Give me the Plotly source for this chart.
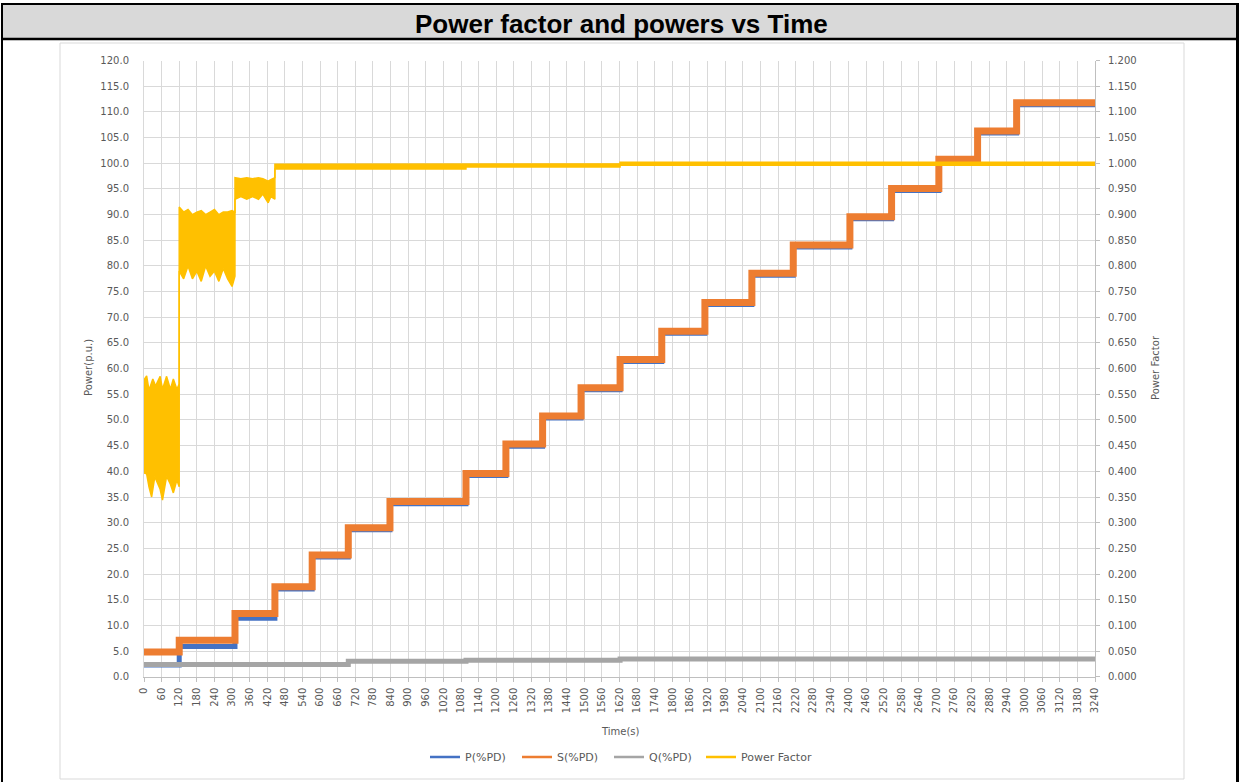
import plotly.graph_objects as go

# ---- data -------------------------------------------------------------
# apparent power S and active power P: level of each load step and its start time (s)
step_start = [0, 120, 310, 446, 573, 696, 838, 1097, 1233, 1358, 1489,
              1622, 1764, 1911, 2071, 2212, 2405, 2547, 2708, 2840, 2973]
s_level = [4.8, 7.1, 12.3, 17.5, 23.7, 29.0, 34.1, 39.6, 45.3, 50.8, 56.3,
           61.8, 67.3, 72.9, 78.6, 84.1, 89.6, 95.1, 100.8, 106.3, 111.8]
p_level = [2.3, 5.9, 11.4, 17.1, 23.3, 28.6, 33.7, 39.2, 44.9, 50.4, 55.9,
           61.4, 66.9, 72.5, 78.2, 83.7, 89.2, 94.7, 100.4, 105.9, 111.4]
end_time = 3240

# reactive power Q
q_start = [0, 696, 1097, 1622]
q_level = [2.4, 3.0, 3.2, 3.45]

# power factor: lower and upper envelope of the fluctuating signal
pf_time = [0, 9, 17, 26, 30, 37, 40, 55, 63, 77, 90, 100, 112, 119.9,
           120, 135, 150, 165, 180, 195, 210, 225, 240, 255, 270, 285, 300, 309.9,
           310, 330, 350, 370, 390, 405, 415, 423, 432, 445.9,
           446, 600, 800, 1000, 1096.9,
           1097, 1300, 1500, 1621.9,
           1622, 2400, 3240]
pf_high = [0.578, 0.586, 0.558, 0.575, 0.580, 0.570, 0.567, 0.585, 0.560, 0.585, 0.560, 0.580, 0.560, 0.570,
           0.915, 0.905, 0.910, 0.900, 0.905, 0.908, 0.900, 0.905, 0.910, 0.900, 0.905, 0.905, 0.908, 0.905,
           0.972, 0.970, 0.972, 0.970, 0.972, 0.970, 0.968, 0.965, 0.968, 0.972,
           0.998, 0.998, 0.998, 0.998, 0.998,
           0.999, 0.999, 0.999, 0.999,
           1.002, 1.002, 1.002]
pf_low = [0.397, 0.395, 0.370, 0.350, 0.365, 0.390, 0.385, 0.365, 0.344, 0.390, 0.375, 0.358, 0.383, 0.370,
          0.790, 0.775, 0.800, 0.775, 0.790, 0.770, 0.800, 0.780, 0.790, 0.770, 0.795, 0.775, 0.760, 0.780,
          0.930, 0.935, 0.930, 0.935, 0.930, 0.940, 0.930, 0.923, 0.935, 0.930,
          0.989, 0.989, 0.988, 0.989, 0.989,
          0.993, 0.993, 0.993, 0.993,
          0.996, 0.996, 0.996]

x_ticks = list(range(0, 3241, 60))

# ---- colours / fonts ----------------------------------------------------
C_P, C_S, C_Q, C_PF = "#4472c4", "#ed7d31", "#a5a5a5", "#ffc000"
TXT = "#595959"
GRID = "#d9d9d9"
FONT = "DejaVu Sans"

W, H = 1242, 782


def fx(px):
    return px / W


def fy(py):
    return 1 - py / H


def stairs(starts, levels, end):
    return list(starts) + [end], list(levels) + [levels[-1]]


fig = go.Figure()

sx, sy = stairs(step_start, s_level, end_time)
px_, py_ = stairs(step_start, p_level, end_time)
qx, qy = stairs(q_start, q_level, end_time)

fig.add_trace(go.Scatter(x=px_, y=py_, mode="lines", line=dict(color=C_P, width=5, shape="hv"),
                         showlegend=False, hoverinfo="skip"))
fig.add_trace(go.Scatter(x=sx, y=sy, mode="lines", line=dict(color=C_S, width=7, shape="hv"),
                         showlegend=False, hoverinfo="skip"))
fig.add_trace(go.Scatter(x=qx, y=qy, mode="lines", line=dict(color=C_Q, width=5, shape="hv"),
                         showlegend=False, hoverinfo="skip"))
fig.add_trace(go.Scatter(x=pf_time, y=pf_low, mode="lines", yaxis="y2",
                         line=dict(color=C_PF, width=1.5), showlegend=False, hoverinfo="skip"))
fig.add_trace(go.Scatter(x=pf_time, y=pf_high, mode="lines", yaxis="y2", fill="tonexty",
                         fillcolor=C_PF, line=dict(color=C_PF, width=1.5),
                         showlegend=False, hoverinfo="skip"))

# legend entries
for name, col, lg in [("P(%PD)", C_P, "legend"), ("S(%PD)", C_S, "legend"),
                      ("Q(%PD)", C_Q, "legend"), ("Power Factor", C_PF, "legend2")]:
    fig.add_trace(go.Scatter(x=[None], y=[None], mode="lines", name=name, legend=lg,
                             line=dict(color=col, width=2.5)))

tickfont = dict(family=FONT, size=10, color=TXT)
legfont = dict(family=FONT, size=11, color=TXT)

fig.update_layout(
    width=W, height=H,
    margin=dict(l=0, r=0, t=0, b=0),
    paper_bgcolor="white", plot_bgcolor="white",
    xaxis=dict(domain=[fx(144), fx(1095)], range=[0, end_time], tickvals=x_ticks,
               ticktext=[str(v) for v in x_ticks], tickangle=-90, tickfont=tickfont,
               showgrid=True, gridcolor=GRID, gridwidth=1, zeroline=False,
               showline=True, linecolor="#bfbfbf", linewidth=1,
               ticks="outside", ticklen=4, tickcolor="#bfbfbf", ticklabelstandoff=2,
               automargin=False, fixedrange=True),
    yaxis=dict(domain=[fy(676.7), fy(60.6)], range=[0, 120], dtick=5, tick0=0,
               tickformat=".1f", tickfont=tickfont, showgrid=True, gridcolor=GRID,
               zeroline=False, showline=True, linecolor="#d9d9d9", ticks="",
               ticklabelstandoff=12, automargin=False, fixedrange=True),
    yaxis2=dict(overlaying="y", side="right", range=[0, 1.2], dtick=0.05, tick0=0,
                tickformat=".3f", tickfont=tickfont, showgrid=False, zeroline=False,
                showline=True, linecolor="#bfbfbf", ticks="outside", ticklen=4,
                tickcolor="#bfbfbf", ticklabelstandoff=6, automargin=False, fixedrange=True),
    legend=dict(orientation="h", x=fx(425), xanchor="left", y=fy(757), yanchor="middle",
                font=legfont, bgcolor="rgba(0,0,0,0)",
                itemwidth=30, traceorder="normal", entrywidth=47, entrywidthmode="pixels"),
    legend2=dict(orientation="h", x=fx(701), xanchor="left", y=fy(757), yanchor="middle",
                 font=legfont, bgcolor="rgba(0,0,0,0)", itemwidth=30),
    showlegend=True,
)

shapes = [
    # title band
    dict(type="rect", xref="paper", yref="paper", x0=fx(3), x1=fx(1237), y0=fy(39), y1=fy(5),
         fillcolor="#d9d9d9", line=dict(width=0), layer="below"),
    # chart area border
    dict(type="rect", xref="paper", yref="paper", x0=fx(60), x1=fx(1184), y0=fy(779), y1=fy(43),
         line=dict(color="#d9d9d9", width=1), layer="below"),
    # outer frame
    dict(type="line", xref="paper", yref="paper", x0=fx(1), x1=fx(1239), y0=fy(4), y1=fy(4),
         line=dict(color="black", width=2)),
    dict(type="line", xref="paper", yref="paper", x0=fx(1), x1=fx(1239), y0=fy(39), y1=fy(39),
         line=dict(color="black", width=2.5)),
    dict(type="line", xref="paper", yref="paper", x0=fx(2), x1=fx(2), y0=fy(3), y1=fy(782),
         line=dict(color="black", width=2)),
    dict(type="line", xref="paper", yref="paper", x0=fx(1237.5), x1=fx(1237.5), y0=fy(3), y1=fy(782),
         line=dict(color="black", width=3)),
]
fig.update_layout(shapes=shapes)

fig.add_annotation(text="<b>Power factor and powers vs Time</b>", xref="paper", yref="paper",
                   x=fx(621), y=fy(24), showarrow=False, xanchor="center", yanchor="middle",
                   font=dict(family="Liberation Sans", size=26, color="black"))
fig.add_annotation(text="Power(p.u.)", xref="paper", yref="paper", x=fx(88), y=fy(368),
                   textangle=-90, showarrow=False, xanchor="center", yanchor="middle",
                   font=dict(family=FONT, size=10, color=TXT))
fig.add_annotation(text="Power Factor", xref="paper", yref="paper", x=fx(1155), y=fy(368),
                   textangle=-90, showarrow=False, xanchor="center", yanchor="middle",
                   font=dict(family=FONT, size=10, color=TXT))
fig.add_annotation(text="Time(s)", xref="paper", yref="paper", x=fx(620), y=fy(731),
                   showarrow=False, xanchor="center", yanchor="middle",
                   font=dict(family=FONT, size=10, color=TXT))

fig.write_html("out.html")
